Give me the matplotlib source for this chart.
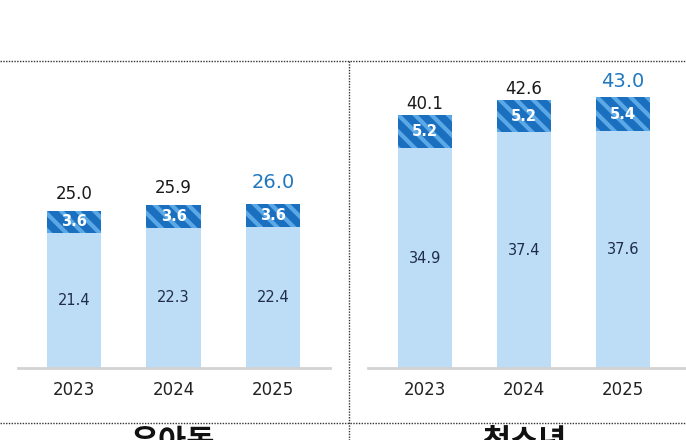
import matplotlib
matplotlib.use("Agg")
import matplotlib.pyplot as plt
from matplotlib.lines import Line2D

plt.rcParams['font.family'] = ['DejaVu Sans', 'Noto Sans CJK KR']
plt.rcParams['hatch.linewidth'] = 3.0

# ---- data ----
years = ["2023", "2024", "2025"]
panel_titles = ["유아동", "청소년"]
child_base = [21.4, 22.3, 22.4]
child_top = [3.6, 3.6, 3.6]
child_total = [25.0, 25.9, 26.0]
teen_base = [34.9, 37.4, 37.6]
teen_top = [5.2, 5.2, 5.4]
teen_total = [40.1, 42.6, 43.0]

W, H = 686, 440
fig = plt.figure(figsize=(W / 100, H / 100), dpi=100)

LIGHT = '#BDDCF5'
DARK = '#1B6FBF'
STRIPE = '#5AA8E6'
BLUE_TXT = '#1F78C0'
NAVY = '#1F2D4A'

base_y = 368
ppu = 6.3
ymax = 45

def px_axes(x0, x1):
    return [x0 / W, (H - base_y) / H, (x1 - x0) / W, ymax * ppu / H]

panels = [
    dict(rect=px_axes(18, 330), xlim=(-0.563, 2.573), base=child_base, top=child_top,
         total=child_total, off=17),
    dict(rect=px_axes(368, 686), xlim=(-0.576, 2.636), base=teen_base, top=teen_top,
         total=teen_total, off=11),
]

for p in panels:
    ax = fig.add_axes(p['rect'])
    x = list(range(len(years)))
    ax.bar(x, p['base'], width=0.545, color=LIGHT, linewidth=0, zorder=2)
    ax.bar(x, p['top'], bottom=p['base'], width=0.545, color=DARK, edgecolor=STRIPE,
           hatch='\\\\', linewidth=0, zorder=2)
    for i in x:
        b, t, tot = p['base'][i], p['top'][i], p['total'][i]
        ax.text(i, b / 2, f"{b:.1f}", ha='center', va='center', fontsize=10.5,
                color=NAVY, zorder=3)
        ax.text(i, b + t / 2, f"{t:.1f}", ha='center', va='center', fontsize=10.5,
                color='white', fontweight='bold', zorder=3)
        last = (i == len(years) - 1)
        ax.annotate(f"{tot:.1f}", xy=(i, tot), xytext=(0, (p['off'] + (5 if last else 0)) * 0.72),
                    textcoords='offset points', ha='center', va='center',
                    fontsize=14 if last else 12, color=BLUE_TXT if last else '#1a1a1a')
    ax.set_xlim(*p['xlim'])
    ax.set_ylim(0, ymax)
    ax.set_xticks(x)
    ax.set_xticklabels(years, fontsize=12, color='#222222')
    ax.tick_params(axis='x', length=0, pad=9)
    ax.set_yticks([])
    for s in ['top', 'right', 'left']:
        ax.spines[s].set_visible(False)
    ax.spines['bottom'].set_color('#D3D3D3')
    ax.spines['bottom'].set_linewidth(2)
    ax.patch.set_alpha(0)

# dotted frame lines
def fy(py):
    return (H - py) / H

fig.add_artist(Line2D([0, 1], [fy(61), fy(61)], transform=fig.transFigure,
                      color='#333333', linestyle=(0, (1, 1)), linewidth=1))
fig.add_artist(Line2D([0, 1], [fy(423), fy(423)], transform=fig.transFigure,
                      color='#333333', linestyle=(0, (1, 1)), linewidth=1))
fig.add_artist(Line2D([349 / W, 349 / W], [fy(61), 0], transform=fig.transFigure,
                      color='#333333', linestyle=(0, (1, 1)), linewidth=1))

for cx, t in zip([173 / W, 525 / W], panel_titles):
    fig.text(cx, fy(426), t, ha='center', va='top', fontsize=22, fontweight='bold',
             color='#111111', family=['Noto Sans CJK KR', 'DejaVu Sans'])

fig.savefig('out.png', dpi=100)
